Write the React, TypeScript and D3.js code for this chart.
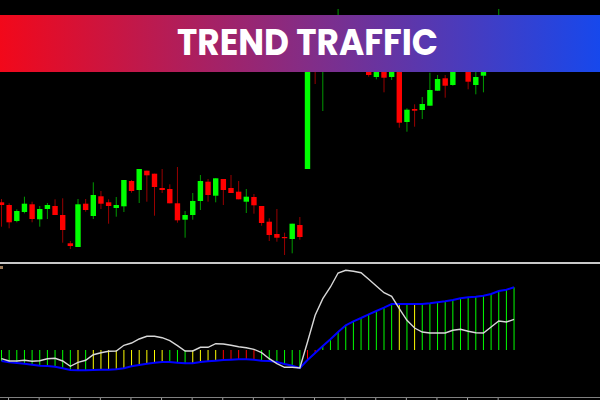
import React from 'react';
import * as d3 from 'd3';

const W = 600;
const H = 400;

const title = 'TREND TRAFFIC';

// Price candles (arbitrary price units)
const opens = [97.7, 95, 79, 88, 95.7, 80.7, 91, 94, 85, 56.7, 53, 96.3, 84, 103.7, 97.7, 92, 93.7, 119, 110, 129.3, 126.3, 112, 111, 96.7, 80.3, 85, 99, 118.3, 104.3, 121, 112, 108.3, 98.3, 103, 94, 78.3, 66, 63, 61, 75, 131, 260, 240, 268, 262, 265, 270, 255, 238, 223, 238, 223, 244, 178, 191, 190, 194.3, 209.3, 221.7, 215, 234, 238, 215, 224.3, 238, 250, 270, 260];
const highs = [101, 96.7, 90.7, 103.3, 98.3, 94, 97, 100.7, 101.7, 59, 101, 101, 117.7, 109, 100.7, 103, 120, 120, 131, 129.3, 126.3, 131, 115.7, 133, 89, 107, 125, 121, 121.7, 121, 125, 119, 111, 106, 94, 81.7, 91, 67.3, 76.3, 83, 262, 265, 275, 284, 291, 280, 275, 270, 245, 242, 245, 250, 250, 191.7, 195.7, 203, 227.3, 225, 225, 240, 248, 244, 232, 242, 255, 291, 278, 282];
const lows = [73.3, 71.7, 77.7, 86.7, 77.7, 73.3, 81, 85, 57.3, 51, 53, 88.3, 81, 91, 76.3, 83.3, 88, 107.3, 97, 98.3, 84.3, 107, 96.7, 77.3, 62.3, 80.3, 90, 98.3, 97.7, 95, 107, 100.7, 87, 86.3, 74.3, 59, 58.3, 45, 46.7, 60.3, 131, 216, 189, 255, 255, 250, 245, 240, 223.3, 220.7, 207.7, 220, 172.3, 168.3, 173.3, 181, 194.3, 209.3, 202.3, 214.3, 230, 210.7, 205.7, 207.7, 232, 245, 252, 255];
const closes = [95, 77.7, 89, 96.3, 81, 91, 95, 85, 70, 54, 95.7, 90, 105, 96.3, 94, 95, 120, 109, 131, 124.7, 113, 110, 96.7, 79.7, 85, 99, 119, 105, 121.7, 110, 107, 100.7, 103.3, 94.7, 77, 65, 62.3, 62.3, 76.3, 63, 255, 238, 270, 280, 280, 272, 255, 262, 225, 236, 222.3, 242, 177.3, 190.3, 189.3, 196, 210, 221, 214.3, 232, 242, 218.3, 223, 236, 250, 270, 260, 275];

// Trend Traffic indicator
const histValues = [-11, -12.3, -13, -13.7, -14.7, -15.7, -16, -16.7, -18.3, -20, -20.3, -20.3, -20, -19.7, -19.7, -19.3, -18.3, -16.3, -15, -13.7, -12.7, -12, -12, -12.7, -13.3, -13.3, -12, -11.3, -10.7, -10, -9.7, -9.3, -9.3, -9.7, -10.7, -11, -12, -14, -15.7, -18, -10, -3, 4, 10.7, 18, 24.7, 28.7, 32, 35.7, 39, 42.3, 46, 46, 46, 46, 46, 46.7, 47.7, 48.7, 50, 51.7, 52.7, 53.3, 54.3, 56, 59, 60.3, 62.7];
const signalValues = [-8.7, -11, -11, -10.3, -11.3, -10.7, -8.7, -8.3, -11, -16.3, -12.3, -10.3, -4.7, -2.7, -1.3, -1, 4.7, 7, 11, 13.7, 13.7, 12.3, 9.3, 4.3, -1, -1, 2.7, 2.7, 6.3, 6, 4.7, 3.3, 2.3, 0.7, -2.7, -8.7, -13.7, -17.3, -17.3, -18, 8, 34.7, 51.3, 63, 77, 79.7, 78.7, 77.3, 70.7, 64, 57.3, 53.7, 41.3, 29.7, 22, 18, 17, 17, 17, 19.7, 20.7, 18.7, 17.3, 17, 23, 29, 28, 30.7];
const histStates = ['G', 'G', 'G', 'G', 'G', 'G', 'G', 'G', 'G', 'G', 'Y', 'G', 'Y', 'Y', 'Y', 'Y', 'Y', 'Y', 'Y', 'Y', 'Y', 'Y', 'G', 'G', 'G', 'Y', 'Y', 'Y', 'Y', 'R', 'R', 'R', 'R', 'R', 'G', 'G', 'G', 'G', 'G', 'G', 'R', 'R', 'G', 'G', 'G', 'G', 'G', 'G', 'G', 'G', 'G', 'G', 'Y', 'G', 'Y', 'G', 'G', 'G', 'G', 'G', 'G', 'G', 'G', 'G', 'G', 'G', 'G', 'G'];
const tickIndices = [1, 5, 9, 13, 17, 21, 25, 29, 33, 37, 41, 45, 49, 53, 57, 61, 65];

const stateColor: Record<string, string> = { G: '#00ff00', Y: '#ffff00', R: '#ff0000' };

export default function App() {
  const n = opens.length;
  const x = d3.scaleLinear().domain([0, n - 1]).range([1.5, 514.05]);
  const yP = d3.scaleLinear().domain([0, 300]).range([300, 0]);
  const yI = d3.scaleLinear().domain([0, 100]).range([350, 250]);

  const histLine = d3.line<number>().x((_, i) => x(i)).y((v) => yI(v));
  const sigLine = d3.line<number>().x((_, i) => x(i)).y((v) => yI(v)).curve(d3.curveLinear);

  const bodyW = 5.4;

  return (
    <svg
      width={W}
      height={H}
      viewBox={`0 0 ${W} ${H}`}
      style={{ position: 'absolute', left: 0, top: 0, display: 'block', background: '#000' }}
    >
      <defs>
        <linearGradient id="bannerGrad" x1="0" x2="1" y1="0" y2="0">
          <stop offset="0%" stopColor="#f2081a" />
          <stop offset="50%" stopColor="#862c84" />
          <stop offset="100%" stopColor="#1748ec" />
        </linearGradient>
      </defs>
      <rect x={0} y={0} width={W} height={H} fill="#000" />

      {/* candles */}
      <g>
        {opens.map((o, i) => {
          const c = closes[i];
          const up = c >= o;
          const col = up ? '#00ff00' : '#ff0000';
          const top = yP(Math.max(o, c));
          const bot = yP(Math.min(o, c));
          return (
            <g key={i}>
              <line x1={x(i)} x2={x(i)} y1={yP(highs[i])} y2={yP(lows[i])} stroke={col} strokeOpacity={0.6} strokeWidth={1} />
              <rect x={x(i) - bodyW / 2} y={top} width={bodyW} height={Math.max(1.2, bot - top)} fill={col} />
            </g>
          );
        })}
      </g>

      {/* banner */}
      <rect x={0} y={15} width={W} height={57} fill="url(#bannerGrad)" />
      <text
        x={307.5}
        y={55}
        textAnchor="middle"
        fill="#ffffff"
        fontFamily="Poppins, Inter, 'Open Sans', sans-serif"
        fontWeight={700}
        fontSize={37}
        textLength={261}
        lengthAdjust="spacingAndGlyphs"
      >
        {title}
      </text>

      {/* separator */}
      <rect x={0} y={262} width={W} height={2} fill="#c8c8c8" />
      <rect x={0} y={266} width={3} height={3} fill="#9c7b5a" />

      {/* histogram bars */}
      <g>
        {histValues.map((v, i) => (
          <line key={i} x1={x(i)} x2={x(i)} y1={yI(0)} y2={yI(v)} stroke={stateColor[histStates[i]]} strokeWidth={1} />
        ))}
      </g>
      <path d={histLine(histValues) || ''} fill="none" stroke="#0000ff" strokeWidth={2} />
      <path d={sigLine(signalValues) || ''} fill="none" stroke="#d8d8d8" strokeWidth={1.4} />

      {/* bottom axis */}
      <line x1={0} x2={W} y1={397.5} y2={397.5} stroke="#808080" strokeWidth={1} />
      {tickIndices.map((t) => (
        <line key={t} x1={x(t) - 0.6} x2={x(t) - 0.6} y1={398} y2={400} stroke="#a0a0a0" strokeWidth={1} />
      ))}
    </svg>
  );
}
